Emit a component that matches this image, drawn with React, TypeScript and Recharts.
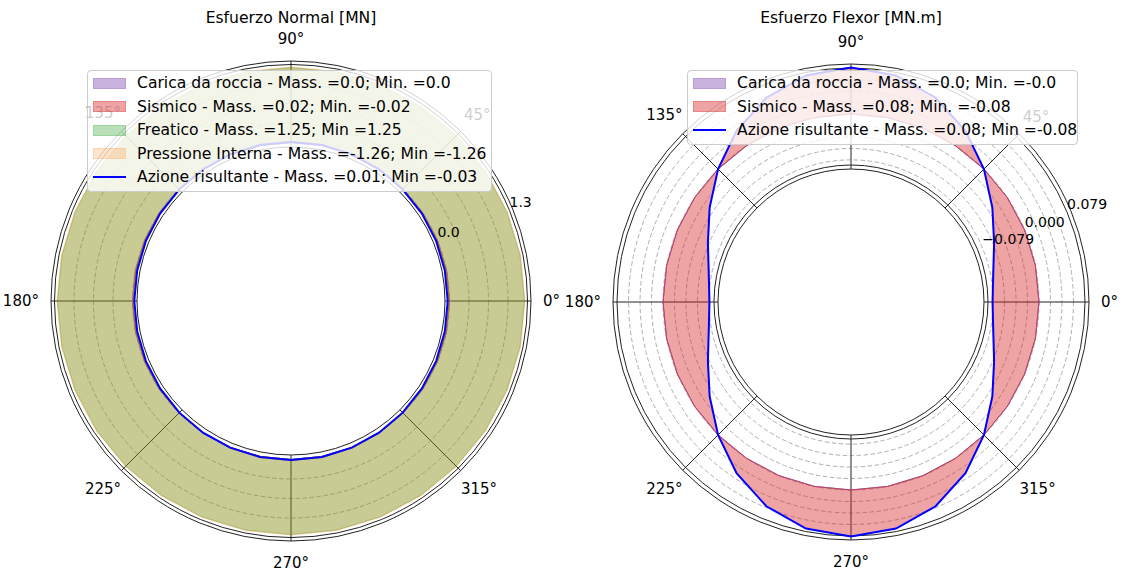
import React from "react";
import { PolarAngleAxis, PolarGrid, PolarRadiusAxis, Radar, RadarChart } from "recharts";

const FONT = "'DejaVu Sans', sans-serif";

// sample angles (deg), 0 and 360 both present so the rings close
const ANGLES = [
  0, 11.25, 22.5, 33.75, 45, 56.25, 67.5, 78.75, 90, 101.25, 112.5, 123.75, 135, 146.25, 157.5, 168.75, 180,
  191.25, 202.5, 213.75, 225, 236.25, 247.5, 258.75, 270, 281.25, 292.5, 303.75, 315, 326.25, 337.5, 348.75, 360,
];
const ANGLE_TICKS = [0, 45, 90, 135, 180, 225, 270, 315];

// Esfuerzo Normal [MN]
const N_CARICA = [
  0, 0, 0, 0, 0, 0, 0, 0, 0, 0, 0, 0, 0, 0, 0, 0, 0, 0, 0, 0, 0, 0, 0, 0, 0, 0, 0, 0, 0, 0, 0, 0, 0,
];
const N_SISMICO = [
  -0.02, -0.018, -0.014, -0.008, 0, 0.008, 0.014, 0.018, 0.02, 0.018, 0.014, 0.008, 0, -0.008, -0.014, -0.018, -0.02,
  -0.018, -0.014, -0.008, 0, 0.008, 0.014, 0.018, 0.02, 0.018, 0.014, 0.008, 0, -0.008, -0.014, -0.018, -0.02,
];
const N_FREATICO = [
  1.25, 1.25, 1.25, 1.25, 1.25, 1.25, 1.25, 1.25, 1.25, 1.25, 1.25, 1.25, 1.25, 1.25, 1.25, 1.25, 1.25,
  1.25, 1.25, 1.25, 1.25, 1.25, 1.25, 1.25, 1.25, 1.25, 1.25, 1.25, 1.25, 1.25, 1.25, 1.25, 1.25,
];
const N_PRESSIONE = [
  -1.26, -1.26, -1.26, -1.26, -1.26, -1.26, -1.26, -1.26, -1.26, -1.26, -1.26, -1.26, -1.26, -1.26, -1.26, -1.26, -1.26,
  -1.26, -1.26, -1.26, -1.26, -1.26, -1.26, -1.26, -1.26, -1.26, -1.26, -1.26, -1.26, -1.26, -1.26, -1.26, -1.26,
];
const N_RISULTANTE = [
  -0.03, -0.028, -0.024, -0.018, -0.01, -0.002, 0.004, 0.008, 0.01, 0.008, 0.004, -0.002, -0.01, -0.018, -0.024, -0.028, -0.03,
  -0.028, -0.024, -0.018, -0.01, -0.002, 0.004, 0.008, 0.01, 0.008, 0.004, -0.002, -0.01, -0.018, -0.024, -0.028, -0.03,
];
const N_RTICKS = [0, 1.3];
const N_GRID = [0, 0.325, 0.65, 0.975];
const N_FRAME = [-0.075, 1.3, 1.358];
const N_DOMAIN = [-0.075, 1.358];

// Esfuerzo Flexor [MN.m]
const M_CARICA = [
  0, 0, 0, 0, 0, 0, 0, 0, 0, 0, 0, 0, 0, 0, 0, 0, 0, 0, 0, 0, 0, 0, 0, 0, 0, 0, 0, 0, 0, 0, 0, 0, 0,
];
const M_SISMICO = [
  -0.08, -0.074, -0.057, -0.031, 0, 0.031, 0.057, 0.074, 0.08, 0.074, 0.057, 0.031, 0, -0.031, -0.057, -0.074, -0.08,
  -0.074, -0.057, -0.031, 0, 0.031, 0.057, 0.074, 0.08, 0.074, 0.057, 0.031, 0, -0.031, -0.057, -0.074, -0.08,
];
const M_RISULTANTE = [
  -0.08, -0.074, -0.057, -0.031, 0, 0.031, 0.057, 0.074, 0.08, 0.074, 0.057, 0.031, 0, -0.031, -0.057, -0.074, -0.08,
  -0.074, -0.057, -0.031, 0, 0.031, 0.057, 0.074, 0.08, 0.074, 0.057, 0.031, 0, -0.031, -0.057, -0.074, -0.08,
];
const M_RTICKS = [-0.079, 0, 0.079];
const M_GRID = [-0.079, -0.0593, -0.0395, -0.0198, 0, 0.0198, 0.0395, 0.0593];
const M_FRAME = [-0.0947, -0.0878, 0.0792, 0.0861];
const M_DOMAIN = [-0.0947, 0.0861];

const PURPLE = "#9467bd";
const RED = "#d62728";
const GREEN = "#2ca02c";
const ORANGE = "#ff7f0e";
const BLUE = "#0000ff";

const normalRows = ANGLES.map((angle, i) => ({
  angle,
  carica: [0, N_CARICA[i]],
  sismico: [0, N_SISMICO[i]],
  freatico: [0, N_FREATICO[i]],
  // drawn as magnitude, like the original figure
  pressione: [0, Math.abs(N_PRESSIONE[i])],
  risultante: N_RISULTANTE[i],
}));

const flexorRows = ANGLES.map((angle, i) => ({
  angle,
  carica: [0, M_CARICA[i]],
  sismico: [0, M_SISMICO[i]],
  risultante: M_RISULTANTE[i],
}));

type Band = { key: string; color: string; opacity: number; edge: number; label: string };

const normalBands: Band[] = [
  { key: "carica", color: PURPLE, opacity: 0.5, edge: 0.8, label: "Carica da roccia - Mass. =0.0; Min. =0.0" },
  { key: "sismico", color: RED, opacity: 0.42, edge: 0.5, label: "Sismico - Mass. =0.02; Min. =-0.02" },
  { key: "freatico", color: GREEN, opacity: 0.33, edge: 0.4, label: "Freatico - Mass. =1.25; Min =1.25" },
  { key: "pressione", color: ORANGE, opacity: 0.22, edge: 0.25, label: "Pressione Interna - Mass. =-1.26; Min =-1.26" },
];
const flexorBands: Band[] = [
  { key: "carica", color: PURPLE, opacity: 0.5, edge: 0.8, label: "Carica da roccia - Mass. =0.0; Min. =-0.0" },
  { key: "sismico", color: RED, opacity: 0.42, edge: 0.5, label: "Sismico - Mass. =0.08; Min. =-0.08" },
];

function rgba(hex: string, a: number) {
  const n = parseInt(hex.slice(1), 16);
  return `rgba(${(n >> 16) & 255},${(n >> 8) & 255},${n & 255},${a})`;
}

// theta labels sit just outside the spine, pushed out by their own half size (matplotlib style)
const AngleTick = (props: any) => {
  const { x, y, payload } = props;
  const fs = 15;
  const label = `${payload.value}°`;
  const w = (String(payload.value).length * 0.636 + 0.5) * fs;
  const h = fs * 1.3;
  const a = (Number(payload.value) * Math.PI) / 180;
  const c = Math.cos(a);
  const s = Math.sin(a);
  const push = (w / 2) * c * c + (h / 2) * s * s;
  return (
    <text
      x={x + c * push}
      y={y - s * push}
      textAnchor="middle"
      dominantBaseline="central"
      fontSize={fs}
      fontFamily={FONT}
      fill="#000"
    >
      {label}
    </text>
  );
};

const radiusTick = (decimals: number) => (props: any) => {
  const { x, y, payload } = props;
  const v = Number(payload.value);
  const txt = (v < 0 ? "\u2212" : "") + Math.abs(v).toFixed(decimals);
  return (
    <text x={x} y={y - 3.5} textAnchor="start" fontSize={14} fontFamily={FONT} fill="#000">
      {txt}
    </text>
  );
};

type PanelProps = {
  left: number;
  title: string;
  rows: any[];
  bands: Band[];
  lineLabel: string;
  cx: number;
  cy: number;
  inner: number;
  outer: number;
  domain: number[];
  rTicks: number[];
  decimals: number;
  grid: number[];
  frame: number[];
  legendLeft: number;
  legendWidth: number;
};

function PolarPanel(p: PanelProps) {
  return (
    <div style={{ position: "absolute", left: p.left, top: 0, width: 564, height: 571 }}>
      <div
        style={{
          position: "absolute", left: p.cx - 200, width: 400, top: 9, lineHeight: "18px",
          textAlign: "center", fontSize: 15.6, color: "#000", fontFamily: FONT,
        }}
      >
        {p.title}
      </div>
      <RadarChart
        width={564}
        height={571}
        data={p.rows}
        cx={p.cx}
        cy={p.cy}
        innerRadius={p.inner}
        outerRadius={p.outer}
        startAngle={0}
        endAngle={360}
        margin={{ top: 0, right: 0, bottom: 0, left: 0 }}
      >
        <PolarGrid gridType="circle" radialLines={false} radiusAxisId="grid" stroke="#b0b0b0" strokeDasharray="4.5 2.5" />
        <PolarGrid gridType="circle" radiusAxisId="frame" stroke="#222" strokeWidth={1} />
        <PolarAngleAxis
          type="number"
          dataKey="angle"
          domain={[0, 360]}
          ticks={ANGLE_TICKS}
          tick={AngleTick}
          tickSize={12}
          tickLine={false}
          axisLine={false}
          allowDataOverflow
        />
        <PolarRadiusAxis
          type="number"
          angle={22.5}
          domain={p.domain}
          ticks={p.rTicks}
          tick={radiusTick(p.decimals)}
          axisLine={false}
          allowDataOverflow
        />
        <PolarRadiusAxis radiusAxisId="grid" type="number" angle={22.5} domain={p.domain} ticks={p.grid} tick={false} axisLine={false} allowDataOverflow />
        <PolarRadiusAxis radiusAxisId="frame" type="number" angle={22.5} domain={p.domain} ticks={p.frame} tick={false} axisLine={false} allowDataOverflow />
        {p.bands.map((b) => (
          <Radar
            key={b.key}
            dataKey={b.key}
            fill={b.color}
            fillOpacity={b.opacity}
            stroke={b.color}
            strokeOpacity={b.edge}
            strokeWidth={1}
            dot={false}
            isAnimationActive={false}
          />
        ))}
        <Radar dataKey="risultante" fill="none" fillOpacity={0} stroke={BLUE} strokeWidth={2} dot={false} isAnimationActive={false} />
      </RadarChart>
      <PlotLegend left={p.legendLeft} width={p.legendWidth} bands={p.bands} lineLabel={p.lineLabel} />
    </div>
  );
}

function PlotLegend({ left, width, bands, lineLabel }: { left: number; width: number; bands: Band[]; lineLabel: string }) {
  return (
    <div
      style={{
        position: "absolute", left, top: 70, width, boxSizing: "border-box",
        background: "rgba(255,255,255,0.8)", border: "1px solid #cccccc", borderRadius: 4,
        padding: "0.5px 0 2px", fontFamily: FONT, fontSize: 15.6, color: "#000",
      }}
    >
      {bands.map((b) => (
        <div key={b.key} style={{ display: "flex", alignItems: "center", height: 23.5 }}>
          <span
            style={{
              marginLeft: 5, width: 33, height: 11, flex: "none",
              background: rgba(b.color, b.opacity), border: `1px solid ${rgba(b.color, b.opacity * 0.6)}`, boxSizing: "border-box",
            }}
          />
          <span style={{ marginLeft: 11, whiteSpace: "nowrap" }}>{b.label}</span>
        </div>
      ))}
      <div style={{ display: "flex", alignItems: "center", height: 23.5 }}>
        <span style={{ marginLeft: 5, width: 33, height: 2, flex: "none", background: BLUE }} />
        <span style={{ marginLeft: 11, whiteSpace: "nowrap" }}>{lineLabel}</span>
      </div>
    </div>
  );
}

export default function App() {
  return (
    <div style={{ position: "absolute", left: 0, top: 0, width: 1128, height: 571, background: "#fff", fontFamily: FONT }}>
      <PolarPanel
        left={0}
        title="Esfuerzo Normal [MN]"
        rows={normalRows}
        bands={normalBands}
        lineLabel="Azione risultante - Mass. =0.01; Min =-0.03"
        cx={291}
        cy={301}
        inner={154}
        outer={240}
        domain={N_DOMAIN}
        rTicks={N_RTICKS}
        decimals={1}
        grid={N_GRID}
        frame={N_FRAME}
        legendLeft={87}
        legendWidth={405}
      />
      <PolarPanel
        left={564}
        title="Esfuerzo Flexor [MN.m]"
        rows={flexorRows}
        bands={flexorBands}
        lineLabel="Azione risultante - Mass. =0.08; Min =-0.08"
        cx={287}
        cy={302}
        inner={133}
        outer={238}
        domain={M_DOMAIN}
        rTicks={M_RTICKS}
        decimals={3}
        grid={M_GRID}
        frame={M_FRAME}
        legendLeft={123}
        legendWidth={391}
      />
    </div>
  );
}
